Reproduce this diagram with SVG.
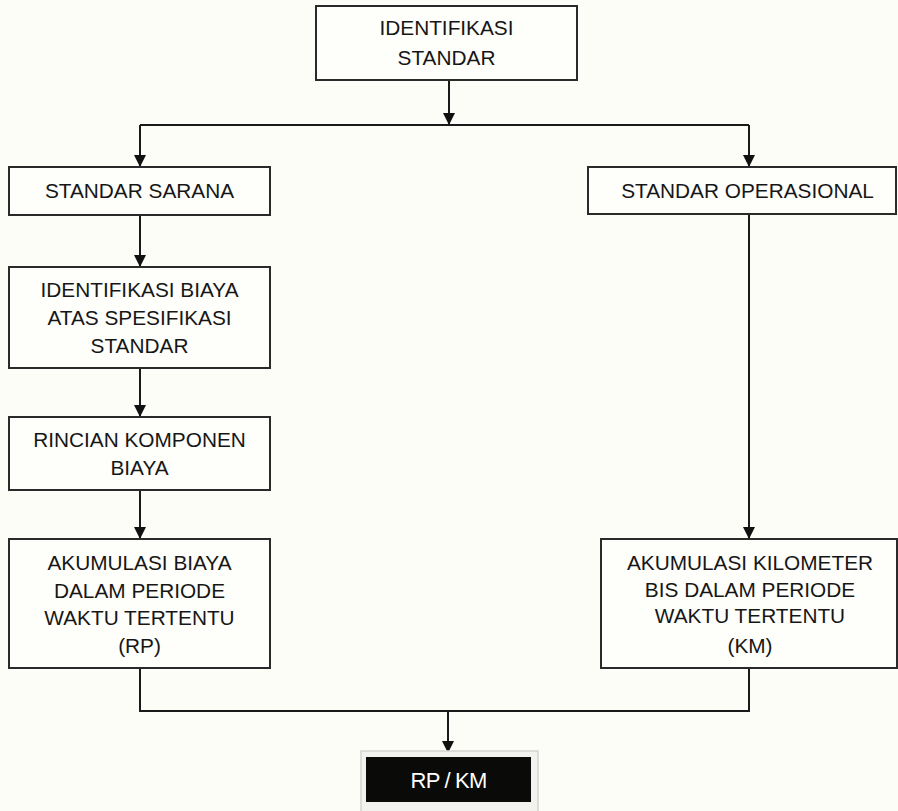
<svg xmlns="http://www.w3.org/2000/svg" width="898" height="811" viewBox="0 0 898 811">
  <style>
    .box { fill: #fefefb; stroke: #2a2a2a; stroke-width: 2; }
    .lbl { font-family: "Liberation Sans", Arial, sans-serif; font-size: 20.8px; fill: #161616; text-anchor: middle; }
    .wire { fill: none; stroke: #1a1a1a; stroke-width: 2; }
    .arrow { fill: none; stroke: #1a1a1a; stroke-width: 2; marker-end: url(#head); }
  </style>
  <defs>
    <marker id="head" markerUnits="userSpaceOnUse" markerWidth="12" markerHeight="12" refX="12" refY="6" orient="auto">
      <path d="M0,0 L12,6 L0,12 z" fill="#111"/>
    </marker>
  </defs>

  <!-- page background -->
  <rect x="0" y="0" width="898" height="811" fill="#fdfdf8"/>

  <!-- connectors -->
  <g id="connectors">
    <line class="arrow" x1="449" y1="80" x2="449" y2="125"/>
    <polyline class="wire" points="140,125 749,125"/>
    <line class="arrow" x1="140" y1="125" x2="140" y2="167"/>
    <line class="arrow" x1="749" y1="125" x2="749" y2="167"/>
    <line class="arrow" x1="140" y1="215" x2="140" y2="267"/>
    <line class="arrow" x1="140" y1="368" x2="140" y2="417"/>
    <line class="arrow" x1="140" y1="490" x2="140" y2="539"/>
    <line class="arrow" x1="749" y1="214" x2="749" y2="539"/>
    <polyline class="wire" points="140,668 140,711 749,711 749,668"/>
    <line class="arrow" x1="448" y1="711" x2="448" y2="753"/>
  </g>

  <g id="identifikasi-standar">
    <rect class="box" x="316" y="6" width="261" height="74"/>
    <text class="lbl" x="446.5" y="35">IDENTIFIKASI</text>
    <text class="lbl" x="446.5" y="65">STANDAR</text>
  </g>

  <g id="standar-sarana">
    <rect class="box" x="9" y="167" width="261" height="48"/>
    <text class="lbl" x="139.5" y="198">STANDAR SARANA</text>
  </g>

  <g id="standar-operasional">
    <rect class="box" x="588" y="167" width="308" height="47"/>
    <text class="lbl" x="747.5" y="198">STANDAR OPERASIONAL</text>
  </g>

  <g id="identifikasi-biaya">
    <rect class="box" x="9" y="267" width="261" height="101"/>
    <text class="lbl" x="139.5" y="297">IDENTIFIKASI BIAYA</text>
    <text class="lbl" x="139.5" y="325">ATAS SPESIFIKASI</text>
    <text class="lbl" x="139.5" y="353">STANDAR</text>
  </g>

  <g id="rincian-komponen">
    <rect class="box" x="9" y="417" width="261" height="73"/>
    <text class="lbl" x="139.5" y="447">RINCIAN KOMPONEN</text>
    <text class="lbl" x="139.5" y="475">BIAYA</text>
  </g>

  <g id="akumulasi-biaya">
    <rect class="box" x="9" y="539" width="261" height="129"/>
    <text class="lbl" x="139.5" y="570">AKUMULASI BIAYA</text>
    <text class="lbl" x="139.5" y="598">DALAM PERIODE</text>
    <text class="lbl" x="139.5" y="625">WAKTU TERTENTU</text>
    <text class="lbl" x="139.5" y="653">(RP)</text>
  </g>

  <g id="akumulasi-kilometer">
    <rect class="box" x="601" y="539" width="296" height="129"/>
    <text class="lbl" x="750" y="570">AKUMULASI KILOMETER</text>
    <text class="lbl" x="750" y="597">BIS DALAM PERIODE</text>
    <text class="lbl" x="750" y="623">WAKTU TERTENTU</text>
    <text class="lbl" x="750" y="653">(KM)</text>
  </g>

  <g id="rp-km">
    <rect x="361" y="751" width="177" height="64" fill="#f2f2ef" stroke="#d4d4d0" stroke-width="1.5"/>
    <rect x="366" y="757" width="165" height="45" fill="#0a0a08"/>
    <text class="lbl" x="448.5" y="788" style="fill:#ffffff;font-size:22px;letter-spacing:-0.8px">RP / KM</text>
  </g>
</svg>
